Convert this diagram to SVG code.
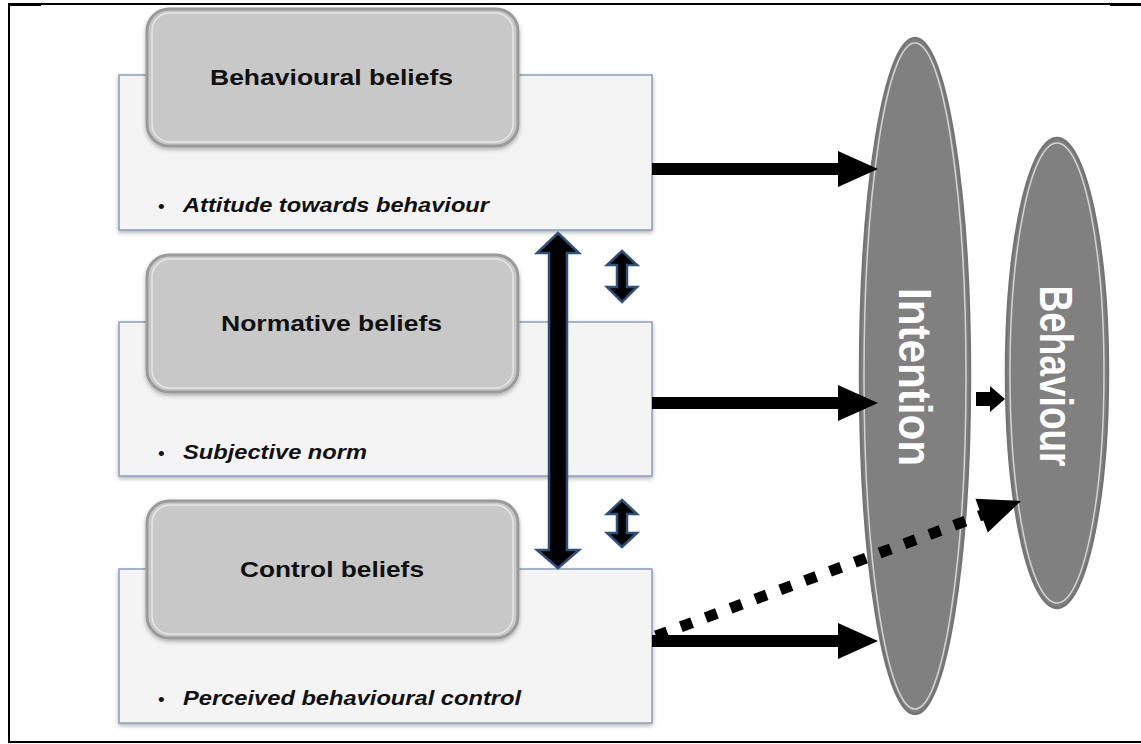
<svg xmlns="http://www.w3.org/2000/svg" width="1141" height="744" viewBox="0 0 1141 744">
  <style>
    .frame { fill: none; stroke: #000; stroke-width: 2; }
    .panel { fill: #f4f4f4; stroke: #8b9dbb; stroke-width: 1.5; }
    .card { fill: #c8c8c8; stroke: #9a9a9a; stroke-width: 3; }
    .card-hl { fill: none; stroke: #ffffff; stroke-opacity: 0.55; stroke-width: 1.5; }
    .title { font-family: "Liberation Sans", Arial, sans-serif; font-weight: bold; font-size: 22px; fill: #111; }
    .item { font-family: "Liberation Sans", Arial, sans-serif; font-weight: bold; font-style: italic; font-size: 21px; fill: #111; }
    .bullet { font-family: "Liberation Sans", Arial, sans-serif; font-size: 19px; fill: #111; }
    .oval { fill: #808080; stroke: #747474; stroke-width: 2.5; }
    .oval-hl { fill: none; stroke: #e2e2e2; stroke-opacity: 0.85; stroke-width: 1.5; }
    .oval-text { font-family: "Liberation Sans", Arial, sans-serif; font-weight: bold; font-size: 42px; fill: #ffffff; }
    .solid { fill: #000; }
    .twoway { fill: #000; stroke: #2d4f7a; stroke-width: 2.5; stroke-linejoin: miter; }
    .dotted { fill: none; stroke: #000; stroke-width: 11; stroke-dasharray: 12 14.5; }
  </style>
  <defs>
    <filter id="shadow" x="-10%" y="-10%" width="120%" height="130%">
      <feDropShadow dx="0" dy="2" stdDeviation="2" flood-color="#000" flood-opacity="0.3"/>
    </filter>
    <linearGradient id="panelFill" x1="0" y1="0" x2="1" y2="0">
      <stop offset="0" stop-color="#f3f3f3"/>
      <stop offset="0.95" stop-color="#f5f5f5"/>
      <stop offset="1" stop-color="#fbfbfb"/>
    </linearGradient>
  </defs>

  <!-- outer frame -->
  <g id="frame">
    <path class="frame" d="M9,4 H1141 M9,4 V742 H1141"/>
    <rect x="8" y="3" width="33" height="3" fill="#000"/>
    <rect x="1110" y="3" width="31" height="3" fill="#000"/>
  </g>

  <!-- belief columns -->
  <g id="attitude">
    <rect class="panel" x="119" y="75" width="533" height="155" fill="url(#panelFill)" filter="url(#shadow)"/>
    <text class="bullet" x="158" y="213">•</text>
    <text class="item" x="183" y="212" textLength="306" lengthAdjust="spacingAndGlyphs">Attitude towards behaviour</text>
  </g>
  <g id="behavioural-beliefs">
    <rect class="card" x="147" y="9" width="371" height="137" rx="22" filter="url(#shadow)"/>
    <rect class="card-hl" x="152" y="13" width="361" height="129" rx="18"/>
    <text class="title" x="210" y="85" textLength="243" lengthAdjust="spacingAndGlyphs">Behavioural beliefs</text>
  </g>

  <g id="subjective-norm">
    <rect class="panel" x="119" y="322" width="533" height="154" fill="url(#panelFill)" filter="url(#shadow)"/>
    <text class="bullet" x="158" y="460">•</text>
    <text class="item" x="183" y="459" textLength="184" lengthAdjust="spacingAndGlyphs">Subjective norm</text>
  </g>
  <g id="normative-beliefs">
    <rect class="card" x="147" y="255" width="371" height="137" rx="22" filter="url(#shadow)"/>
    <rect class="card-hl" x="152" y="259" width="361" height="129" rx="18"/>
    <text class="title" x="221" y="331" textLength="221" lengthAdjust="spacingAndGlyphs">Normative beliefs</text>
  </g>

  <g id="perceived-control">
    <rect class="panel" x="119" y="569" width="533" height="154" fill="url(#panelFill)" filter="url(#shadow)"/>
    <text class="bullet" x="158" y="706">•</text>
    <text class="item" x="183" y="705" textLength="338" lengthAdjust="spacingAndGlyphs">Perceived behavioural control</text>
  </g>
  <g id="control-beliefs">
    <rect class="card" x="147" y="501" width="371" height="137" rx="22" filter="url(#shadow)"/>
    <rect class="card-hl" x="152" y="505" width="361" height="129" rx="18"/>
    <text class="title" x="240" y="577" textLength="184" lengthAdjust="spacingAndGlyphs">Control beliefs</text>
  </g>

  <!-- outcome ovals -->
  <g id="intention">
    <ellipse class="oval" cx="915" cy="376" rx="55" ry="338"/>
    <ellipse class="oval-hl" cx="915" cy="376" rx="51" ry="333"/>
    <text class="oval-text" transform="translate(916 377) rotate(90) scale(1 1.1)" x="0" y="15" text-anchor="middle" textLength="178" lengthAdjust="spacingAndGlyphs">Intention</text>
  </g>
  <g id="behaviour">
    <ellipse class="oval" cx="1057" cy="373" rx="51" ry="235"/>
    <ellipse class="oval-hl" cx="1057" cy="373" rx="47" ry="230"/>
    <text class="oval-text" transform="translate(1057 376) rotate(90) scale(1 1.1)" x="0" y="15" text-anchor="middle" textLength="181" lengthAdjust="spacingAndGlyphs">Behaviour</text>
  </g>

  <!-- connectors -->
  <g id="connectors">
    <polygon class="solid" points="652,163 838,163 838,151 878,169 838,187 838,175 652,175"/>
    <polygon class="solid" points="652,397 838,397 838,385 878,403 838,421 838,409 652,409"/>
    <polygon class="solid" points="652,635 838,635 838,623 878,641 838,659 838,647 652,647"/>
    <polygon class="solid" points="976,392 990,392 990,386 1005,399 990,412 990,406 976,406"/>
    <line class="dotted" x1="656" y1="636" x2="982" y2="515"/>
    <polygon class="solid" points="1021,501 975.4,498.7 987.8,532.5"/>
    <polygon class="twoway" points="558,233 579,253 567,253 567,550 579,550 558,568 537,550 549,550 549,253 537,253"/>
    <polygon class="twoway" points="622,251 637,265 627,265 627,287 637,287 622,302 607,287 617,287 617,265 607,265"/>
    <polygon class="twoway" points="622,500 637,514 627,514 627,533 637,533 622,547 607,533 617,533 617,514 607,514"/>
  </g>
</svg>
